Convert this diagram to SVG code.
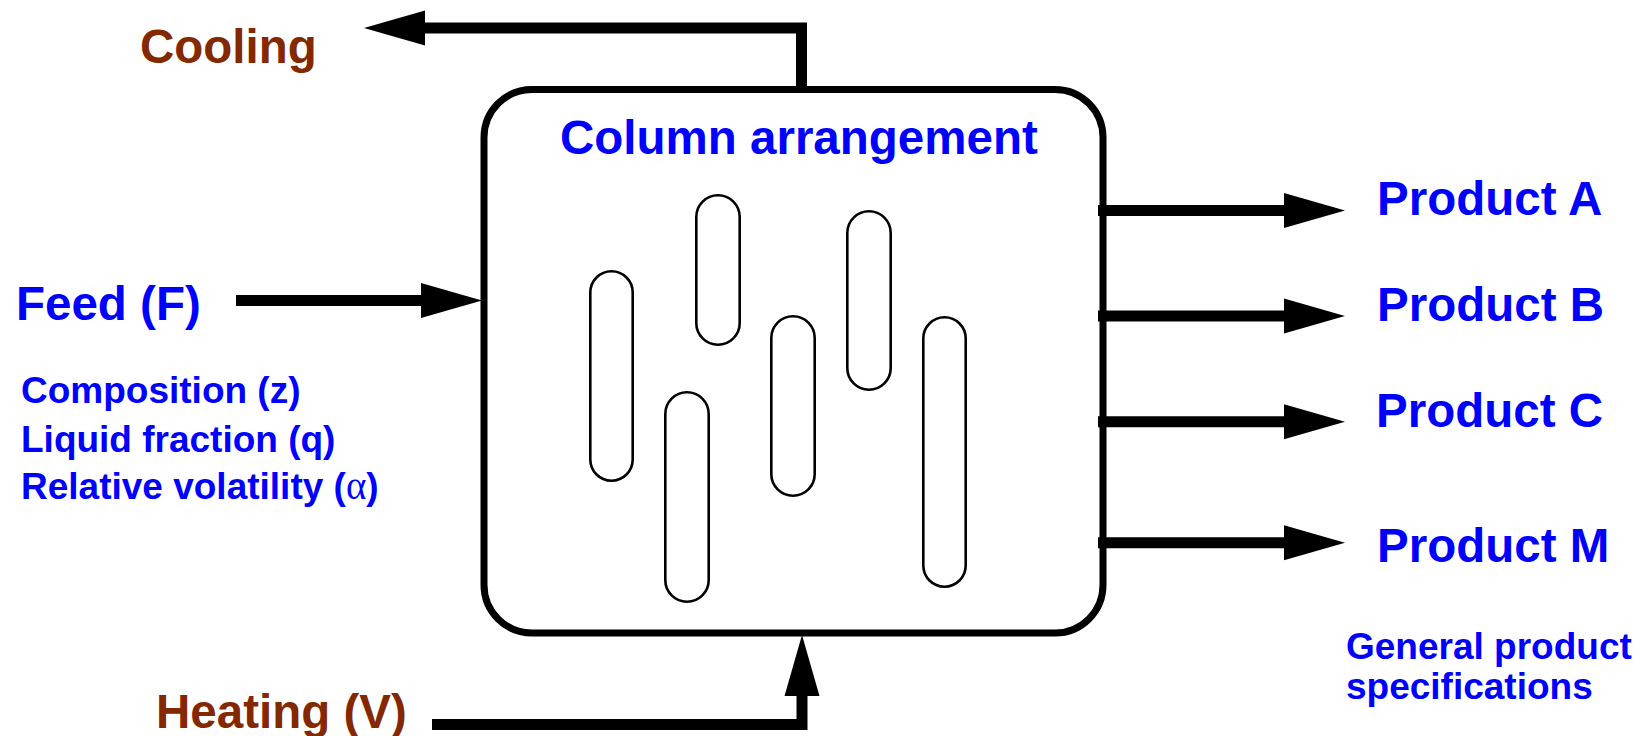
<svg xmlns="http://www.w3.org/2000/svg" width="1642" height="736" viewBox="0 0 1642 736">
<style>
.t{font-family:"Liberation Sans",Arial,sans-serif;font-weight:bold}
.blue{fill:#0000ff}
.brown{fill:#832800}
.big{font-size:47.5px}
.small{font-size:37px}
.alpha{font-family:"Liberation Serif","DejaVu Serif",serif;font-weight:normal;font-size:39px}
.col{fill:none;stroke:#000;stroke-width:2.6}
.conn{fill:none;stroke:#000;stroke-width:11;stroke-linejoin:miter;stroke-linecap:butt}
</style>
<defs>
<marker id="ah" markerUnits="userSpaceOnUse" markerWidth="62" markerHeight="36" refX="0" refY="17.5" orient="auto" overflow="visible">
<path d="M-1,0 L60,17.5 L-1,35 Z" fill="#000"/>
</marker>
</defs>
<rect width="1642" height="736" fill="#fff"/>

<g id="column-arrangement">
<rect x="484" y="89.5" width="619" height="543.5" rx="48" ry="48" fill="#fff" stroke="#000" stroke-width="7"/>
<text class="t blue big" x="560" y="154">Column arrangement</text>
<rect class="col" x="590.3" y="271.3" width="42.4" height="209.4" rx="21.2"/>
<rect class="col" x="696.3" y="195.3" width="43.4" height="149.4" rx="21.7"/>
<rect class="col" x="665.3" y="392.3" width="43.4" height="209.4" rx="21.7"/>
<rect class="col" x="771.3" y="316.3" width="43.4" height="179.4" rx="21.7"/>
<rect class="col" x="847.3" y="211.3" width="43.4" height="178.4" rx="21.7"/>
<rect class="col" x="923.3" y="317.3" width="42.4" height="269.4" rx="21.2"/>
</g>

<g id="connectors">
<path class="conn" d="M801.5,93 V28 H424" marker-end="url(#ah)"/>
<path class="conn" d="M236,300.5 H422" marker-end="url(#ah)"/>
<path class="conn" d="M1098,210.5 H1285" marker-end="url(#ah)"/>
<path class="conn" d="M1098,316 H1285" marker-end="url(#ah)"/>
<path class="conn" d="M1098,421.7 H1285" marker-end="url(#ah)"/>
<path class="conn" d="M1098,542.7 H1285" marker-end="url(#ah)"/>
<path class="conn" d="M432,724.5 H802 V695" marker-end="url(#ah)"/>
</g>

<g id="cooling">
<text class="t brown big" x="140" y="63">Cooling</text>
</g>

<g id="feed">
<text class="t blue big" x="16" y="320">Feed (F)</text>
<text class="t blue small" x="21" y="403">Composition (z)</text>
<text class="t blue small" x="21" y="452">Liquid fraction (q)</text>
<text class="t blue small" x="21" y="499">Relative volatility (<tspan class="alpha">α</tspan>)</text>
</g>

<g id="heating">
<text class="t brown big" x="156" y="728">Heating (V)</text>
</g>

<g id="product-a"><text class="t blue big" x="1377" y="215">Product A</text></g>
<g id="product-b"><text class="t blue big" x="1377" y="320.7">Product B</text></g>
<g id="product-c"><text class="t blue big" x="1376" y="427">Product C</text></g>
<g id="product-m"><text class="t blue big" x="1377" y="561.7">Product M</text></g>

<g id="specs">
<text class="t blue small" x="1346" y="659">General product</text>
<text class="t blue small" x="1346" y="699">specifications</text>
</g>
</svg>
